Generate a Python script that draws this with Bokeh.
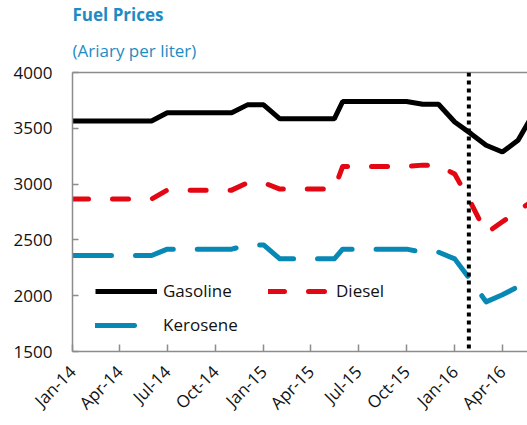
import math
import pandas as pd
from bokeh.plotting import figure
from bokeh.models import (Range1d, FixedTicker, DatetimeTickFormatter, LinearAxis,
                          Span, Title)
from bokeh.embed import file_html
from bokeh.resources import INLINE

# ---- data ----
dates = ["2014-01-01", "2014-06-01", "2014-07-01", "2014-11-01", "2014-12-01",
         "2015-01-01", "2015-02-01", "2015-05-16", "2015-06-01", "2015-10-01",
         "2015-11-01", "2015-12-01", "2016-01-01", "2016-02-01", "2016-03-01",
         "2016-04-01", "2016-05-01", "2016-06-01"]
gasoline = [3565, 3565, 3640, 3640, 3710, 3710, 3585, 3585, 3740, 3740,
            3715, 3715, 3556, 3452, 3348, 3288, 3393, 3645]
diesel = [2866, 2866, 2946, 2946, 3012, 3012, 2955, 2955, 3158, 3158,
          3170, 3165, 3090, 2830, 2560, 2662, 2760, 2860]
kerosene = [2360, 2360, 2417, 2417, 2455, 2455, 2330, 2330, 2417, 2417,
            2390, 2390, 2330, 2135, 1945, 2008, 2081, 2156]
tick_dates = ["2014-01-01", "2014-04-01", "2014-07-01", "2014-10-01",
              "2015-01-01", "2015-04-01", "2015-07-01", "2015-10-01",
              "2016-01-01", "2016-04-01"]
y_ticks = [1500, 2000, 2500, 3000, 3500, 4000]
event_date = "2016-01-28"
x_start, x_end = "2014-01-01", "2016-05-19"

def ms(d):
    return pd.Timestamp(d).value / 1e6

x = pd.to_datetime(dates)

FONT = "Open Sans"
BLUE_TITLE = "#1d8cc4"
AXIS_GRAY = "#8c8c8c"

p = figure(width=527, height=425, x_axis_type="datetime",
           x_range=Range1d(ms(x_start), ms(x_end)),
           y_range=Range1d(y_ticks[0], y_ticks[-1]),
           output_backend="svg", toolbar_location=None,
           min_border_left=72, min_border_right=0, min_border_top=0,
           min_border_bottom=73)

p.outline_line_color = None
p.xgrid.grid_line_color = None
p.ygrid.grid_line_color = None
p.background_fill_color = "white"
p.border_fill_color = "white"

bottom_axis = p.below[0]
left_axis = p.left[0]

# titles
p.title.text = "Fuel Prices"
p.title.text_font = FONT
p.title.text_font_size = "17px"
p.title.text_font_style = "bold"
p.title.text_color = BLUE_TITLE
p.title.align = "left"
p.title.offset = 0
p.title.standoff = 0

top_axis = LinearAxis(ticker=FixedTicker(ticks=[]), axis_line_color=AXIS_GRAY,
                      axis_line_width=1.5, major_tick_line_color=None,
                      minor_tick_line_color=None, major_label_text_font_size="0px",
                      major_label_standoff=0)
p.add_layout(top_axis, "above")
p.add_layout(Title(text="(Ariary per liter)", text_font=FONT, text_font_size="17px",
                   text_font_style="normal", text_color=BLUE_TITLE, align="left",
                   offset=0, standoff=22), "above")

# axes
for ax in (bottom_axis, left_axis):
    ax.axis_line_color = AXIS_GRAY
    ax.axis_line_width = 1.5
    ax.major_tick_line_color = AXIS_GRAY
    ax.major_tick_line_width = 1.5
    ax.minor_tick_line_color = None
    ax.major_label_text_font = FONT
    ax.major_label_text_font_size = "17px"
    ax.major_label_text_color = "#111111"

left_axis.ticker = FixedTicker(ticks=y_ticks)
left_axis.major_tick_in = 6
left_axis.major_tick_out = 0
left_axis.major_label_standoff = 20

bottom_axis.ticker = FixedTicker(ticks=[ms(d) for d in tick_dates], minor_ticks=[])
fmt = "%b-%y"
bottom_axis.formatter = DatetimeTickFormatter(
    microseconds=fmt, milliseconds=fmt, seconds=fmt, minsec=fmt, minutes=fmt,
    hourmin=fmt, hours=fmt, days=fmt, months=fmt, years=fmt)
bottom_axis.major_tick_in = 7
bottom_axis.major_tick_out = 0
bottom_axis.major_label_orientation = math.pi / 4
bottom_axis.major_label_standoff = 17

# lines
p.line(x, gasoline, line_color="black", line_width=5, legend_label="Gasoline")
p.line(x, diesel, line_color="#e30613", line_width=5, line_dash="16 24",
       line_cap="round", line_join="round", legend_label="Diesel")
p.line(x, kerosene, line_color="#0888b5", line_width=5, line_dash="39 24",
       line_cap="round", line_join="round", legend_label="Kerosene")

p.add_layout(Span(location=ms(event_date), dimension="height", line_color="black",
                  line_width=4, line_dash="4 4"))

leg = p.legend[0]
leg.orientation = "horizontal"
leg.ncols = 2
leg.location = (23, 15)
leg.padding = 0
leg.margin = 0
leg.spacing = 11
leg.glyph_width = 62
leg.glyph_height = 20
leg.label_height = 20
leg.label_width = 94
leg.label_standoff = 6
leg.label_text_font = FONT
leg.label_text_font_size = "17px"
leg.label_text_color = "#111111"
leg.background_fill_alpha = 0
leg.border_line_color = None

open("out.html", "w").write(file_html(p, INLINE))
